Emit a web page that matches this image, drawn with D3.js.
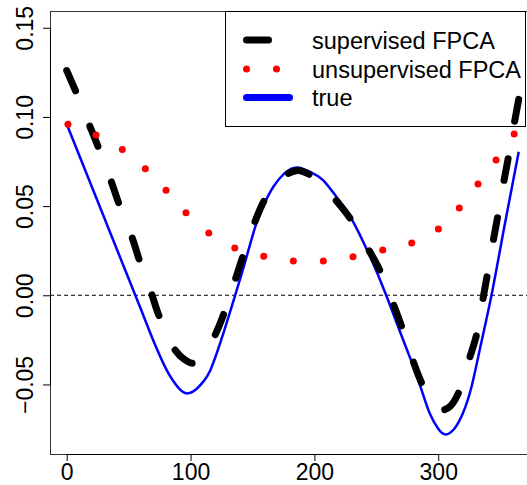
<!DOCTYPE html>
<html>
<head>
<meta charset="utf-8">
<script src="https://cdn.jsdelivr.net/npm/d3@7"></script>
<style>
  html, body { margin: 0; padding: 0; background: #fff; }
  svg { display: block; }
  text { font-family: "Liberation Sans", Arial, sans-serif; }
</style>
</head>
<body>
<svg id="chart" width="527" height="485"></svg>
<script>
// ---- data ----
const xTicks = [0, 100, 200, 300];
const xTickLabels = ["0", "100", "200", "300"];
const yTicks = [-0.05, 0, 0.05, 0.10, 0.15];
const yTickLabels = ["\u22120.05", "0.00", "0.05", "0.10", "0.15"];

const seriesNames = ["supervised FPCA", "unsupervised FPCA", "true"];

const supX = [0, 7.5, 18, 25.5, 36, 42, 53, 58.6, 68.6, 74.8, 87.5, 95, 102, 110, 119.8, 127, 136, 142.6, 152, 160, 170, 178, 187, 197, 207, 216.7, 228.8, 243.6, 253, 263.8, 270.5, 279.4, 286.7, 295, 303.6, 310, 316, 325, 331, 336, 340, 344, 348, 352, 356, 360, 365];
const supY = [0.126, 0.114, 0.096, 0.083, 0.0637, 0.0516, 0.032, 0.0198, 0.0007, -0.012, -0.0307, -0.036, -0.0381, -0.034, -0.0223, -0.0101, 0.0086, 0.0226, 0.0413, 0.0538, 0.064, 0.068, 0.070, 0.0673, 0.061, 0.0538, 0.0432, 0.0258, 0.0138, -0.0049, -0.0176, -0.0363, -0.0493, -0.060, -0.0643, -0.062, -0.0553, -0.0359, -0.022, -0.0026, 0.013, 0.029, 0.044, 0.060, 0.075, 0.091, 0.110];

const unsupX = [1, 23.7, 44.9, 63.5, 80.2, 96.3, 114.7, 135.7, 159.1, 183.0, 207.2, 231.2, 255.2, 278.6, 300.1, 317, 332.1, 346.7, 361.3];
const unsupY = [0.0959, 0.0899, 0.0818, 0.0710, 0.0589, 0.0463, 0.0349, 0.0265, 0.0219, 0.0192, 0.0192, 0.0216, 0.0254, 0.0293, 0.0372, 0.0489, 0.0624, 0.0758, 0.0904];

const trueX = [0, 15, 30, 45, 60, 70, 80, 86, 91, 97, 104, 110, 116, 125, 136, 145, 153, 160, 167, 176, 186, 197, 207, 218, 229, 245, 258, 270, 280, 287, 293, 300, 306, 313, 320, 327, 334, 343, 353, 365];
const trueY = [0.096, 0.070, 0.044, 0.018, -0.008, -0.0255, -0.041, -0.048, -0.0525, -0.055, -0.053, -0.0487, -0.042, -0.0245, 0, 0.021, 0.040, 0.052, 0.061, 0.0685, 0.0717, 0.069, 0.0646, 0.055, 0.0441, 0.0216, 0, -0.022, -0.040, -0.054, -0.066, -0.0748, -0.078, -0.0748, -0.066, -0.051, -0.029, 0, 0.037, 0.0805];

// ---- layout ----
const svg = d3.select("#chart");
const plotL = 50, plotT = 11, plotB = 454;
const x = d3.scaleLinear().domain([-13.5, 380]).range([plotL, 537.3]);
const y = d3.scaleLinear().domain([-0.089, 0.1594]).range([plotB, plotT]);

const zip = (xs, ys) => xs.map((v, i) => [v, ys[i]]);
const line = d3.line().x(d => x(d[0])).y(d => y(d[1])).curve(d3.curveCatmullRom.alpha(0.5));
const smoothLine = d3.line().x(d => x(d[0])).y(d => y(d[1])).curve(d3.curveNatural);

// plot box
svg.append("rect")
  .attr("x", plotL + 0.5).attr("y", plotT + 0.5)
  .attr("width", x.range()[1] - plotL).attr("height", plotB - plotT)
  .attr("fill", "none").attr("stroke", "#333").attr("stroke-width", 1);

// zero reference line
svg.append("line")
  .attr("x1", plotL).attr("x2", x.range()[1])
  .attr("y1", y(0)).attr("y2", y(0))
  .attr("stroke", "#000").attr("stroke-width", 1)
  .attr("stroke-dasharray", "4,3");

// true curve
svg.append("path")
  .attr("d", smoothLine(zip(trueX, trueY)))
  .attr("fill", "none").attr("stroke", "#0000ff").attr("stroke-width", 2.5);

// supervised FPCA (thick dashed)
svg.append("path")
  .attr("d", line(zip(supX, supY)))
  .attr("fill", "none").attr("stroke", "#000").attr("stroke-width", 7)
  .attr("stroke-linecap", "round").attr("stroke-dasharray", "22,38");

// unsupervised FPCA (dots)
svg.append("g").selectAll("circle")
  .data(zip(unsupX, unsupY))
  .join("circle")
  .attr("cx", d => x(d[0])).attr("cy", d => y(d[1]))
  .attr("r", 3.5).attr("fill", "#ff0000");

// axes
const xAxis = d3.axisBottom(x).tickValues(xTicks)
  .tickFormat((d, i) => xTickLabels[i]).tickSize(7).tickSizeOuter(0);
const gx = svg.append("g").attr("transform", `translate(0,${plotB})`).call(xAxis);
gx.select(".domain").attr("d", `M${x(xTicks[0])},0.5H${x(xTicks[xTicks.length - 1])}`)
  .attr("stroke", "#000");
gx.selectAll(".tick line").attr("stroke", "#000");
gx.selectAll(".tick text")
  .attr("y", 26).attr("dy", 0)
  .attr("font-size", 23).attr("fill", "#000")
  .attr("font-family", "'Liberation Sans', Arial, sans-serif");

const yAxis = d3.axisLeft(y).tickValues(yTicks)
  .tickFormat((d, i) => yTickLabels[i]).tickSize(7).tickSizeOuter(0);
const gy = svg.append("g").attr("transform", `translate(${plotL},0)`).call(yAxis);
gy.select(".domain").attr("d", `M0.5,${y(yTicks[0])}V${y(yTicks[yTicks.length - 1])}`)
  .attr("stroke", "#000");
gy.selectAll(".tick line").attr("stroke", "#000");
gy.selectAll(".tick text")
  .attr("x", 0).attr("dy", 0)
  .attr("transform", "translate(-17,0) rotate(-90)")
  .attr("text-anchor", "middle")
  .attr("font-size", 23).attr("fill", "#000")
  .attr("font-family", "'Liberation Sans', Arial, sans-serif");

// legend
const lg = svg.append("g");
lg.append("rect")
  .attr("x", 225.5).attr("y", 11.5).attr("width", 300).attr("height", 115)
  .attr("fill", "none").attr("stroke", "#000").attr("stroke-width", 1);
const ly = [40, 69, 97.5];
const lx1 = 246.5, lx2 = 289.5;
lg.append("line").attr("x1", lx1).attr("x2", lx2).attr("y1", ly[0]).attr("y2", ly[0])
  .attr("stroke", "#000").attr("stroke-width", 7).attr("stroke-linecap", "round")
  .attr("stroke-dasharray", "22,38");
[lx1, lx1 + 30].forEach(cx => lg.append("circle").attr("cx", cx).attr("cy", ly[1]).attr("r", 3.5).attr("fill", "#ff0000"));
lg.append("line").attr("x1", lx1).attr("x2", lx2).attr("y1", ly[2]).attr("y2", ly[2])
  .attr("stroke", "#0000ff").attr("stroke-width", 7).attr("stroke-linecap", "round");
seriesNames.forEach((s, i) => {
  lg.append("text").attr("x", 312).attr("y", ly[i] + 8.5)
    .attr("font-size", 23.5).attr("fill", "#000").text(s);
});
</script>
</body>
</html>
